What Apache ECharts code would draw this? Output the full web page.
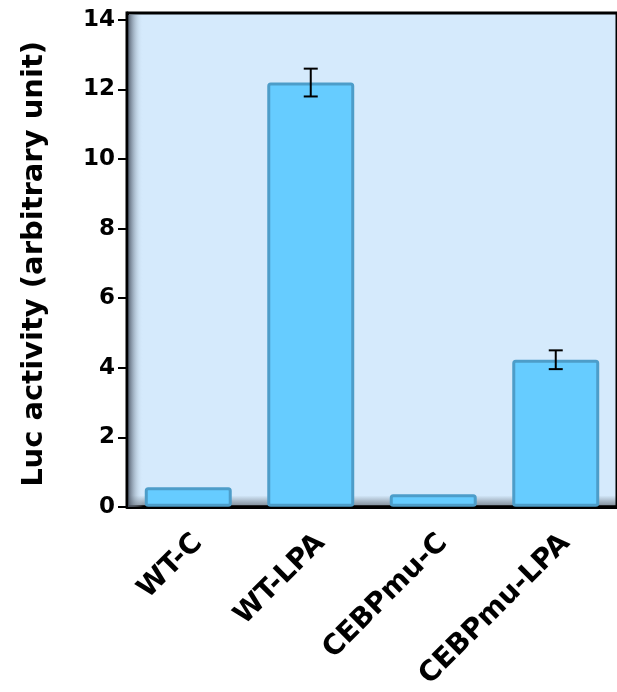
<!DOCTYPE html>
<html>
<head>
<meta charset="utf-8">
<script src="https://cdn.jsdelivr.net/npm/echarts@6/dist/echarts.min.js"></script>
<style>
  html, body { margin: 0; padding: 0; background: #fff; }
  #main { width: 617px; height: 692px; }
</style>
</head>
<body>
<div id="main"></div>
<script>
// 数据
const categories = ["WT-C", "WT-LPA", "CEBPmu-C", "CEBPmu-LPA"];
const values = [0.56, 12.2, 0.36, 4.23];
const errors = [0, 0.4, 0, 0.27];
const yTicks = [0, 2, 4, 6, 8, 10, 12, 14];

const chart = echarts.init(document.getElementById("main"));

chart.setOption({
  animation: false,
  grid: {
    left: 127,
    right: -2,
    top: 13,
    bottom: 184,
    show: true,
    borderColor: "#000",
    borderWidth: 3,
    // 背景：底部有一点阴影
    backgroundColor: {
      type: "linear", x: 0, y: 0, x2: 0, y2: 1,
      colorStops: [
        { offset: 0, color: "#d5eafc" },
        { offset: 0.974, color: "#d5eafc" },
        { offset: 1, color: "#6e7882" }
      ]
    }
  },
  xAxis: {
    type: "category",
    data: categories,
    axisLine: { lineStyle: { color: "#000", width: 3 } },
    axisTick: { show: false },
    axisLabel: {
      rotate: 45,
      margin: 22,
      color: "#000",
      fontFamily: "DejaVu Sans",
      fontWeight: "bold",
      fontSize: 28,
      verticalAlign: "top",
      interval: 0
    }
  },
  yAxis: {
    type: "value",
    min: 0,
    max: 14.2,
    name: "Luc activity (arbitrary unit)",
    nameLocation: "middle",
    nameGap: 78,
    nameTextStyle: {
      color: "#000",
      fontFamily: "DejaVu Sans",
      fontWeight: "bold",
      fontSize: 29,
      padding: [0, 8, 0, 0]
    },
    splitLine: { show: false },
    axisLine: { show: true, lineStyle: { color: "#000", width: 3 } },
    axisTick: {
      show: true,
      length: 9,
      customValues: yTicks,
      lineStyle: { color: "#000", width: 2 }
    },
    axisLabel: {
      customValues: yTicks,
      margin: 12,
      color: "#000",
      fontFamily: "DejaVu Sans",
      fontWeight: "bold",
      fontSize: 23
    }
  },
  series: [
    {
      type: "bar",
      data: values,
      barWidth: "71%",
      itemStyle: {
        color: "#66ccff",
        borderColor: "#4d9dc9",
        borderWidth: 3,
        borderRadius: 2
      },
      z: 2
    },
    {
      // 误差线
      type: "custom",
      data: values.map((v, i) => [i, v, errors[i]]),
      z: 5,
      renderItem: function (params, api) {
        const i = api.value(0);
        const v = api.value(1);
        const e = api.value(2);
        if (!e) return;
        const hi = api.coord([i, v + e]);
        const lo = api.coord([i, v - e]);
        const half = 7;
        const style = { stroke: "#000", lineWidth: 2 };
        return {
          type: "group",
          children: [
            { type: "line", shape: { x1: hi[0], y1: hi[1], x2: lo[0], y2: lo[1] }, style: style },
            { type: "line", shape: { x1: hi[0] - half, y1: hi[1], x2: hi[0] + half, y2: hi[1] }, style: style },
            { type: "line", shape: { x1: lo[0] - half, y1: lo[1], x2: lo[0] + half, y2: lo[1] }, style: style }
          ]
        };
      }
    }
  ],
  // 左侧阴影
  graphic: [
    {
      type: "rect",
      z: 1,
      shape: { x: 128, y: 15, width: 15, height: 492 },
      style: {
        fill: {
          type: "linear", x: 0, y: 0, x2: 1, y2: 0,
          colorStops: [
            { offset: 0, color: "rgba(70,80,95,0.9)" },
            { offset: 1, color: "rgba(213,234,252,0)" }
          ]
        }
      },
      silent: true
    }
  ]
});
</script>
</body>
</html>
